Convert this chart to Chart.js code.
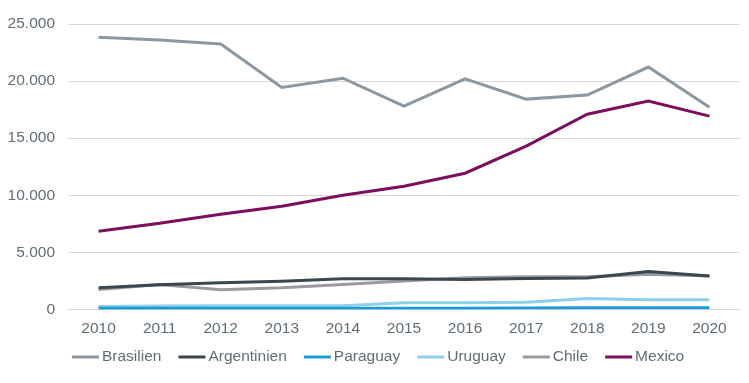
<!DOCTYPE html>
<html>
<head>
<meta charset="utf-8">
<script src="https://cdn.jsdelivr.net/npm/chart.js@4/dist/chart.umd.min.js"></script>
<style>
html,body{margin:0;padding:0;background:#fff;}
#wrap{width:749px;height:383px;position:relative;}
</style>
</head>
<body>
<div id="wrap"><canvas id="c" width="749" height="383"></canvas></div>
<script>
const years = ['2010','2011','2012','2013','2014','2015','2016','2017','2018','2019','2020'];
const brasilien   = [23850,23600,23250,19450,20250,17800,20200,18420,18770,21230,17700];
const argentinien = [1900,2170,2340,2460,2690,2690,2630,2700,2750,3330,2920];
const paraguay    = [100,100,100,100,100,100,100,130,140,140,140];
const uruguay     = [260,300,320,320,320,590,590,620,960,850,850];
const chile       = [1750,2170,1730,1900,2190,2480,2780,2870,2870,3070,2920];
const mexico      = [6840,7540,8330,9040,10000,10790,11930,14300,17100,18250,16930];
const seriesNames = ['Brasilien','Argentinien','Paraguay','Uruguay','Chile','Mexico'];
const seriesColors = ['#8b98a2','#39474f','#1a9ad6','#8ecfea','#9a9b9e','#7a0f5b'];
const yTicks = [0,5000,10000,15000,20000,25000];

const FONT = '"Liberation Sans", Arial, sans-serif';
const TEXT = '#5f6d77';

function fmt(v){ return String(v).replace(/\B(?=(\d{3})+(?!\d))/g,'.'); }

const values = [brasilien,argentinien,paraguay,uruguay,chile,mexico];
const datasets = seriesNames.map((n,i)=>({
  label:n, data:values[i], borderColor:seriesColors[i], backgroundColor:seriesColors[i],
  borderWidth:3, pointRadius:0, tension:0, fill:false
}));

const legendPlugin = {
  id:'customLegend',
  afterDraw(chart){
    const ctx = chart.ctx;
    ctx.save();
    ctx.font = '15.5px ' + FONT;
    const lineW = 27, gap = 3, itemGap = 17;
    const items = chart.data.datasets.map(d=>({label:d.label,color:d.borderColor,w:ctx.measureText(d.label).width}));
    let x = 72;
    const y = 357;
    ctx.textBaseline = 'middle';
    ctx.textAlign = 'left';
    items.forEach(it=>{
      ctx.fillStyle = it.color;
      ctx.fillRect(x, y-1.5, lineW, 3);
      ctx.fillStyle = TEXT;
      ctx.fillText(it.label, x+lineW+gap, y);
      x += lineW+gap+it.w+itemGap;
    });
    ctx.restore();
  }
};

new Chart(document.getElementById('c'), {
  type:'line',
  data:{labels:years, datasets},
  plugins:[legendPlugin],
  options:{
    responsive:false,
    animation:false,
    layout:{padding:{top:24,right:9,bottom:35,left:0}},
    plugins:{legend:{display:false},tooltip:{enabled:false}},
    scales:{
      x:{
        offset:true,
        grid:{display:false,drawTicks:false},
        border:{display:false},
        ticks:{color:TEXT,font:{family:FONT,size:15.5},padding:10,maxRotation:0,autoSkip:false}
      },
      y:{
        min:0,max:25000,
        afterBuildTicks(s){ s.ticks = yTicks.map(v=>({value:v})); },
        afterFit(s){ s.width = 68; },
        grid:{color:'#d9d9d9',lineWidth:1,drawTicks:false},
        border:{display:false},
        ticks:{color:TEXT,font:{family:FONT,size:15.5},padding:13,callback:v=>fmt(v)}
      }
    }
  }
});
</script>
</body>
</html>
